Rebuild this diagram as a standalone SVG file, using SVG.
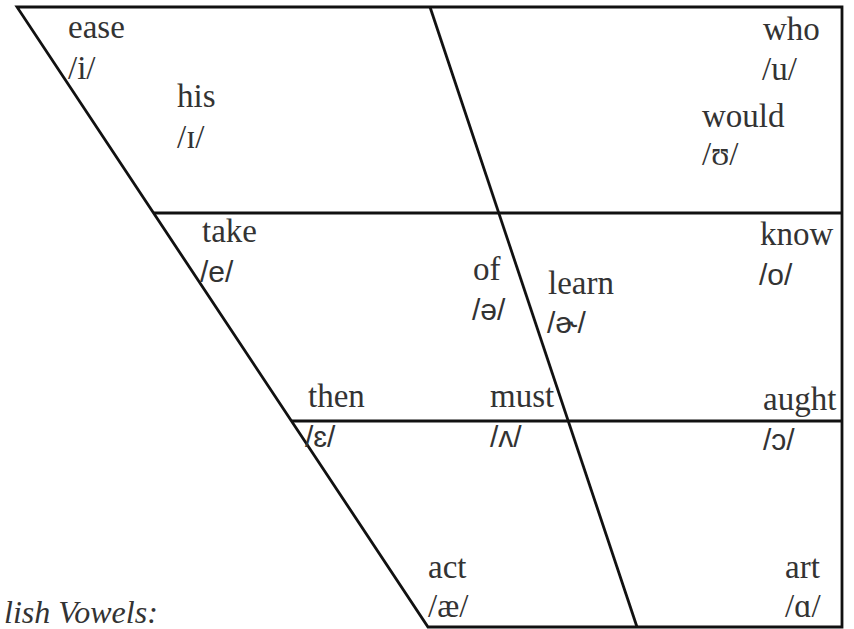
<svg xmlns="http://www.w3.org/2000/svg" width="854" height="629" viewBox="0 0 854 629">
<style>
.ln{stroke:#111;stroke-width:2.8;fill:none;stroke-linejoin:miter}
.w{font-family:"Liberation Serif","Times New Roman",serif;font-size:33px;fill:#333}
.s{font-family:"Liberation Sans",Arial,sans-serif;font-size:30px;fill:#333}
.i{font-family:"Liberation Serif","Times New Roman",serif;font-size:32px;font-style:italic;fill:#333}
</style>
<rect width="854" height="629" fill="#fff"/>
<g id="chart-lines">
<polygon class="ln" points="17,7 842,7 842,627 428,627"/>
<line class="ln" x1="430" y1="7" x2="637" y2="627"/>
<line class="ln" x1="154" y1="213" x2="842" y2="213"/>
<line class="ln" x1="292" y1="421" x2="842" y2="421"/>
</g>
<g id="labels">
<g id="ease"><text class="w" x="68" y="38">ease</text><text class="w" x="68" y="79">/i/</text></g>
<g id="his"><text class="w" x="177" y="107">his</text><text class="w" x="177" y="148">/ɪ/</text></g>
<g id="who"><text class="w" x="763" y="40">who</text><text class="w" x="762" y="80">/u/</text></g>
<g id="would"><text class="w" x="702" y="127">would</text><text class="w" x="702" y="165">/ʊ/</text></g>
<g id="take"><text class="w" x="202" y="242">take</text><text class="s" x="200" y="282">/e/</text></g>
<g id="of"><text class="w" x="473" y="280">of</text><text class="s" x="472" y="320">/ə/</text></g>
<g id="learn"><text class="w" x="548" y="294">learn</text><text class="s" x="547" y="333">/ɚ/</text></g>
<g id="know"><text class="w" x="760" y="245">know</text><text class="s" x="759" y="285">/o/</text></g>
<g id="then"><text class="w" x="308" y="407">then</text><text class="s" x="305" y="447">/ɛ/</text></g>
<g id="must"><text class="w" x="490" y="407">must</text><text class="s" x="490" y="447">/ʌ/</text></g>
<g id="aught"><text class="w" x="763" y="410">aught</text><text class="s" x="763" y="450">/ɔ/</text></g>
<g id="act"><text class="w" x="428" y="578">act</text><text class="w" x="428" y="617">/æ/</text></g>
<g id="art"><text class="w" x="785" y="578">art</text><text class="w" x="785" y="617">/ɑ/</text></g>
<text class="i" x="4" y="623">lish Vowels:</text>
</g>
</svg>
